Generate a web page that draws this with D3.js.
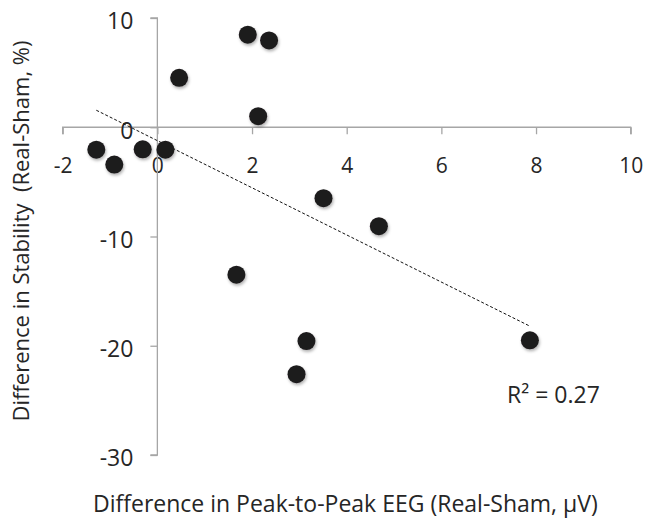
<!DOCTYPE html>
<html>
<head>
<meta charset="utf-8">
<script src="https://cdn.jsdelivr.net/npm/d3@7"></script>
<style>
  html, body { margin: 0; padding: 0; background: #fff; }
  text { font-family: "Open Sans", Lato, sans-serif; fill: #262626; }
</style>
</head>
<body>
<div id="chart"></div>
<script>
// Data
const eegDiff = [-1.29, -0.91, -0.31, 0.17, 0.46, 1.91, 2.36, 2.13, 3.51, 4.68, 1.67, 3.15, 2.94, 7.87];
const stabilityDiff = [-2.05, -3.42, -2.02, -2.05, 4.52, 8.47, 7.95, 1.01, -6.49, -9.06, -13.5, -19.57, -22.6, -19.5];
const xTicks = [-2, 0, 2, 4, 6, 8, 10];
const yTicks = [-30, -20, -10, 0, 10];

const W = 645, H = 519;

const svg = d3.select("#chart").append("svg")
  .attr("width", W)
  .attr("height", H);

// soft shadow under the dots
const defs = svg.append("defs");
defs.append("filter")
  .attr("id", "shadow")
  .attr("x", "-50%").attr("y", "-50%")
  .attr("width", "200%").attr("height", "200%")
  .append("feDropShadow")
    .attr("dx", 1).attr("dy", 2)
    .attr("stdDeviation", 1.5)
    .attr("flood-color", "#000")
    .attr("flood-opacity", 0.3);

const x = d3.scaleLinear().domain([-2, 10]).range([62.7, 630.7]);
const y = d3.scaleLinear().domain([-30, 10]).range([455, 18]);

const plain = d => String(d); // hyphen minus, like the original

// x axis sits at y = 0
const xAxis = svg.append("g")
  .attr("transform", `translate(0,${y(0)})`)
  .call(d3.axisBottom(x).tickValues(xTicks).tickSize(7).tickPadding(24).tickFormat(plain));

// y axis sits at x = 0
const yAxis = svg.append("g")
  .attr("transform", `translate(${x(0)},0)`)
  .call(d3.axisLeft(y).tickValues(yTicks).tickSize(7).tickPadding(17).tickFormat(plain));

[xAxis, yAxis].forEach(g => {
  g.select(".domain").attr("stroke", "#a6a6a6").attr("stroke-width", 1.3);
  g.selectAll(".tick line").attr("stroke", "#a6a6a6").attr("stroke-width", 1.3);
  g.selectAll(".tick text")
    .style("font-family", "'Open Sans', Lato, sans-serif")
    .attr("fill", "#262626");
});
xAxis.selectAll(".tick text").style("font-size", "21px");
yAxis.selectAll(".tick text").style("font-size", "23px").attr("dy", "0.47em");

// axis lines stop at the end ticks
xAxis.select(".domain").attr("d", `M${x(-2)},7V0H${x(10)}V7`);
yAxis.select(".domain").attr("d", `M-7,${y(10)}H0V${y(-30)}H-7`);

// linear trend line (least squares) over the data range
const n = eegDiff.length;
const mx = d3.mean(eegDiff), my = d3.mean(stabilityDiff);
let sxy = 0, sxx = 0, syy = 0;
for (let i = 0; i < n; i++) {
  sxy += (eegDiff[i] - mx) * (stabilityDiff[i] - my);
  sxx += (eegDiff[i] - mx) ** 2;
  syy += (stabilityDiff[i] - my) ** 2;
}
const slope = sxy / sxx;
const intercept = my - slope * mx;
const r2 = (sxy * sxy) / (sxx * syy);
const xr = d3.extent(eegDiff);

svg.append("line")
  .attr("x1", x(xr[0])).attr("y1", y(intercept + slope * xr[0]))
  .attr("x2", x(xr[1])).attr("y2", y(intercept + slope * xr[1]))
  .attr("stroke", "#111")
  .attr("stroke-width", 1)
  .attr("stroke-dasharray", "3,2");

// points
svg.append("g")
  .selectAll("circle")
  .data(eegDiff)
  .enter().append("circle")
    .attr("cx", d => x(d))
    .attr("cy", (d, i) => y(stabilityDiff[i]))
    .attr("r", 9)
    .attr("fill", "#1c1a1b")
    .attr("filter", "url(#shadow)");

// R squared label
svg.append("text")
  .attr("x", 507)
  .attr("y", 403)
  .style("font-size", "23px")
  .text(`R² = ${r2.toFixed(2)}`);

// axis titles
svg.append("text")
  .attr("x", 93)
  .attr("y", 512)
  .style("font-size", "23px")
  .text("Difference in Peak-to-Peak EEG (Real-Sham, µV)");

svg.append("text")
  .attr("transform", `translate(29,231) rotate(-90)`)
  .attr("text-anchor", "middle")
  .style("font-size", "22px")
  .text("Difference in Stability\u00a0 (Real-Sham, %)");
</script>
</body>
</html>
